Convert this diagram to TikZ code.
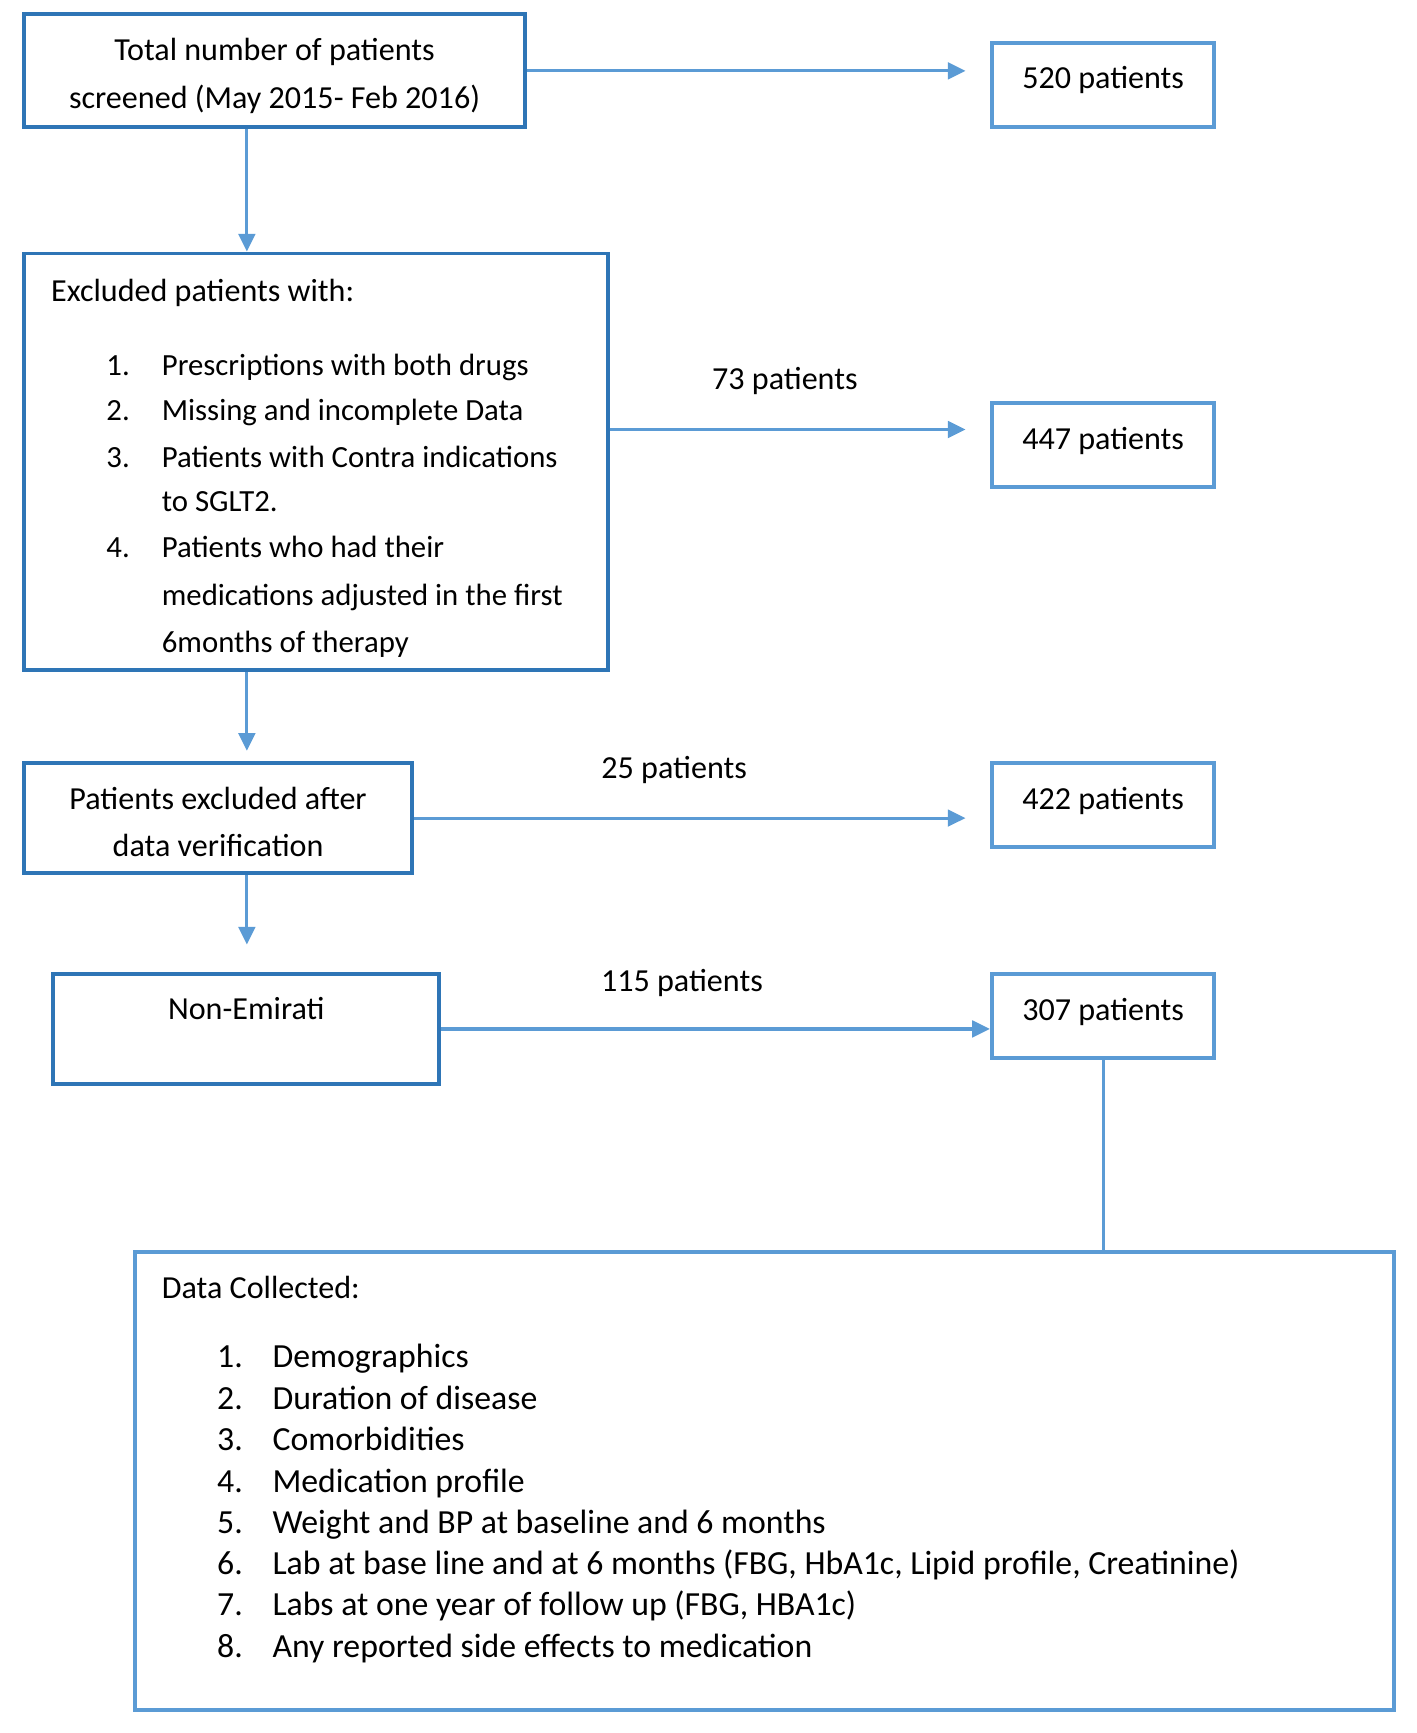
\documentclass[tikz,border=0pt]{standalone}
\usepackage{fontspec}
\setmainfont{Carlito}
\usetikzlibrary{arrows.meta}
\definecolor{darkb}{RGB}{46,117,182}
\definecolor{lightb}{RGB}{91,155,213}
\begin{document}
\begin{tikzpicture}[x=1pt,y=-1pt,
  boxd/.style={draw=darkb,line width=3.6pt,inner sep=0pt},
  boxl/.style={draw=lightb,line width=3.6pt,inner sep=0pt},
  txt/.style={inner sep=0pt,anchor=base,font=\fontsize{29}{43}\selectfont},
  ltxt/.style={txt,anchor=base west},
  ltxs/.style={ltxt,font=\fontsize{27.8}{40}\selectfont},
  ltxb/.style={ltxt,font=\fontsize{30.5}{40}\selectfont},
  arr/.style={draw=lightb,line width=2.8pt,-{Triangle[length=16pt,width=15pt]}},
  conn/.style={draw=lightb,line width=2.8pt}]
\useasboundingbox (0,0) rectangle (1280,1565.5);
% boxes
\node[boxd,minimum width=452pt,minimum height=102pt] (b1) at (248,64) {};
\node[boxl,minimum width=201pt,minimum height=76pt] (p520) at (996.5,77) {};
\node[boxd,minimum width=527pt,minimum height=376pt] (b2) at (285.5,417) {};
\node[boxl,minimum width=201pt,minimum height=76pt] (p447) at (996.5,402) {};
\node[boxd,minimum width=350pt,minimum height=100pt] (b3) at (197,739) {};
\node[boxl,minimum width=201pt,minimum height=76pt] (p422) at (996.5,727) {};
\node[boxd,minimum width=349pt,minimum height=99pt] (b4) at (222.5,929.5) {};
\node[boxl,minimum width=201pt,minimum height=76pt] (p307) at (996.5,918) {};
\node[boxl,minimum width=1137pt,minimum height=414pt] (b5) at (690.5,1338) {};
% texts
\node[txt] (t1a) at (248,55) {Total number of patients};
\node[txt] (t1b) at (248,98) {screened (May 2015- Feb 2016)};
\node[txt] (t520) at (996.5,80) {520 patients};
\node[ltxt] (t2h) at (46,272) {Excluded patients with:};
\node[ltxs] (n21) at (96,339) {1.};
\node[ltxs] (i21) at (146,339) {Prescriptions with both drugs};
\node[ltxs] (n22) at (96,380) {2.};
\node[ltxs] (i22) at (146,380) {Missing and incomplete Data};
\node[ltxs] (n23) at (96,422) {3.};
\node[ltxs] (i23) at (146,422) {Patients with Contra indications};
\node[ltxs] (i23b) at (146,462) {to SGLT2.};
\node[ltxs] (n24) at (96,504) {4.};
\node[ltxs] (i24) at (146,504) {Patients who had their};
\node[ltxs] (i24b) at (146,547) {medications adjusted in the first};
\node[ltxs] (i24c) at (146,589) {6months of therapy};
\node[txt] (t447) at (996.5,406) {447 patients};
\node[txt] (t3a) at (197,731) {Patients excluded after};
\node[txt] (t3b) at (197,774) {data verification};
\node[txt] (t422) at (996.5,731) {422 patients};
\node[txt] (t4) at (222.5,921) {Non-Emirati};
\node[txt] (t307) at (996.5,922) {307 patients};
\node[txt] (l73) at (709,352) {73 patients};
\node[txt] (l25) at (609,703) {25 patients};
\node[txt] (l115) at (616,896) {115 patients};
\node[ltxt] (t5h) at (146,1173) {Data Collected:};
\node[ltxb] (n51) at (196,1235) {1.};
\node[ltxb] (i51) at (246,1235) {Demographics};
\node[ltxb] (n52) at (196,1273) {2.};
\node[ltxb] (i52) at (246,1273) {Duration of disease};
\node[ltxb] (n53) at (196,1310) {3.};
\node[ltxb] (i53) at (246,1310) {Comorbidities};
\node[ltxb] (n54) at (196,1348) {4.};
\node[ltxb] (i54) at (246,1348) {Medication profile};
\node[ltxb] (n55) at (196,1385) {5.};
\node[ltxb] (i55) at (246,1385) {Weight and BP at baseline and 6 months};
\node[ltxb] (n56) at (196,1422) {6.};
\node[ltxb] (i56) at (246,1422) {Lab at base line and at 6 months (FBG, HbA1c, Lipid profile, Creatinine)};
\node[ltxb] (n57) at (196,1459) {7.};
\node[ltxb] (i57) at (246,1459) {Labs at one year of follow up (FBG, HBA1c)};
\node[ltxb] (n58) at (196,1497) {8.};
\node[ltxb] (i58) at (246,1497) {Any reported side effects to medication};
% connectors
\draw[arr,shorten >=22pt] (b1.east) -- (b1.east -| p520.west);
\draw[arr,shorten >=22pt] ([yshift=29pt]b2.east) -- ([yshift=29pt]b2.east -| p447.west);
\draw[arr,shorten >=22pt] (b3.east) -- (b3.east -| p422.west);
\draw[arr] (b4.east) -- (b4.east -| p307.west);
\draw[arr] ([xshift=-25pt]b1.south) -- ([xshift=-62.5pt]b2.north);
\draw[arr,shorten >=9pt] ([xshift=-62.5pt]b2.south) -- ([xshift=26pt]b3.north);
\draw[arr,shorten >=25pt] ([xshift=26pt]b3.south) -- ([xshift=26pt]b3.south |- b4.north);
\draw[conn] (p307.south) -- (p307.south |- b5.north);
\end{tikzpicture}
\end{document}
